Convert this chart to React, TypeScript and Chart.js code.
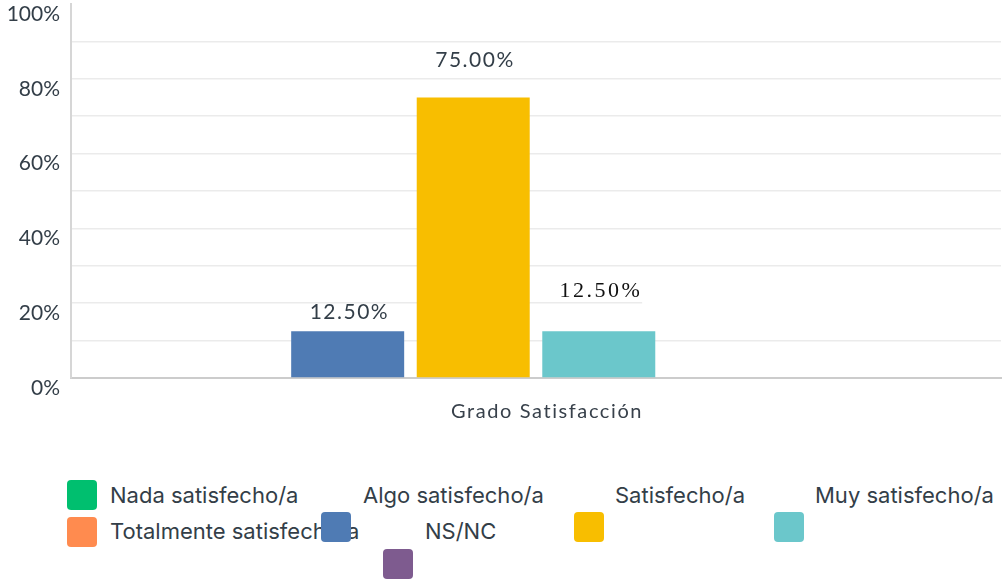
import React, { useEffect, useRef } from "react";
import { Chart, registerables } from "chart.js";

Chart.register(...registerables);

const categories = ["Grado Satisfacción"];
const seriesNames = [
  "Nada satisfecho/a",
  "Algo satisfecho/a",
  "Satisfecho/a",
  "Muy satisfecho/a",
  "Totalmente satisfecho/a",
  "NS/NC",
];
const seriesValues = [0, 12.5, 75, 12.5, 0, 0];
const seriesColors = ["#00bf6f", "#4f7bb4", "#f8be00", "#6bc7cb", "#ff8b4f", "#7e5b8f"];
const yTickValues = [0, 20, 40, 60, 80, 100];

// label styling per series (font / distance above bar top)
const labelFonts = [
  "21px Lato",
  "21px Lato",
  "21px Lato",
  "22px 'Liberation Serif'",
  "21px Lato",
  "21px Lato",
];
const labelColors = ["#333e48", "#333e48", "#333e48", "#111111", "#333e48", "#333e48"];
const labelSpacing = [1.5, 1.5, 1.5, 2.5, 1.5, 1.5];
const labelLift = [19, 19, 37.5, 40.5, 19, 19];

// legend layout (as rendered in the reference)
const legendLayout = [
  { bx: 67, by: 480, tx: 110, ty: 495 },
  { bx: 321, by: 512, tx: 363, ty: 495 },
  { bx: 574, by: 512, tx: 615, ty: 495 },
  { bx: 774, by: 512, tx: 815, ty: 495 },
  { bx: 67, by: 517, tx: 110, ty: 531 },
  { bx: 383, by: 549, tx: 425, ty: 531 },
];

const TEXT = "#333e48";

const labelPlugin = {
  id: "valueLabels",
  beforeDatasetsDraw(chart: any) {
    // the reference's 20% gridline is cut after the right value label
    const ctx = chart.ctx;
    const y = chart.scales.y.getPixelForValue(20);
    const meta = chart.getDatasetMeta(3);
    const el = meta && meta.data[0];
    if (!el) return;
    ctx.save();
    ctx.font = labelFonts[3];
    (ctx as any).letterSpacing = labelSpacing[3] + "px";
    const txt = seriesValues[3].toFixed(2) + "%";
    const w = ctx.measureText(txt).width;
    const x0 = el.x + 2 + w / 2;
    ctx.fillStyle = "#ffffff";
    ctx.fillRect(x0, y - 1.5, chart.chartArea.right - x0 + 2, 3);
    ctx.restore();
  },
  afterDatasetsDraw(chart: any) {
    const ctx = chart.ctx;
    ctx.save();
    ctx.textAlign = "center";
    ctx.textBaseline = "middle";
    chart.data.datasets.forEach((ds: any, i: number) => {
      const meta = chart.getDatasetMeta(i);
      const el = meta.data[0];
      const v = ds.data[0];
      if (!el || !v) return;
      ctx.font = labelFonts[i];
      ctx.fillStyle = labelColors[i];
      (ctx as any).letterSpacing = labelSpacing[i] + "px";
      ctx.fillText(v.toFixed(2) + "%", el.x + 1 + labelSpacing[i] / 2, el.y - labelLift[i]);
    });
    // category label
    const xs = chart.scales.x;
    ctx.font = "20px Lato";
    ctx.fillStyle = "#38414b";
    (ctx as any).letterSpacing = "1.6px";
    categories.forEach((c, i) => {
      ctx.fillText(c, xs.getPixelForValue(i) + 11, xs.bottom - 18);
    });
    ctx.restore();
  },
};

export default function App() {
  const ref = useRef<HTMLCanvasElement>(null);

  useEffect(() => {
    if (!ref.current) return;
    const chart = new Chart(ref.current, {
      type: "bar",
      data: {
        labels: categories,
        datasets: seriesNames.map((name, i) => ({
          label: name,
          data: [seriesValues[i]],
          backgroundColor: seriesColors[i],
          borderWidth: 0,
          categoryPercentage: 0.81,
          barPercentage: 0.9,
        })),
      },
      options: {
        responsive: false,
        animation: false,
        devicePixelRatio: 1,
        layout: { padding: { top: 4, right: 2, left: 0, bottom: 0 } },
        plugins: {
          legend: { display: false },
          tooltip: { enabled: false },
          title: { display: false },
        },
        scales: {
          x: {
            afterFit: (s: any) => {
              s.height = 52;
              s.paddingLeft = 0;
              s.paddingRight = 0;
            },
            grid: { color: "rgba(0,0,0,0)", drawTicks: false },
            border: { color: "#cccccc", width: 2 },
            ticks: { display: false },
          },
          y: {
            min: 0,
            max: 100,
            afterFit: (s: any) => {
              s.width = 71;
              s.paddingTop = 0;
              s.paddingBottom = 0;
            },
            afterBuildTicks: (s: any) => {
              const t: any[] = [];
              for (let v = 0; v <= 100; v += 10) t.push({ value: v });
              s.ticks = t;
            },
            grid: {
              drawTicks: false,
              lineWidth: 1.5,
              color: (c: any) => (c.tick && c.tick.value === 100 ? "rgba(0,0,0,0)" : "#ebebeb"),
            },
            border: { color: "#d6d6d6", width: 2 },
            ticks: {
              autoSkip: false,
              padding: 11,
              labelOffset: 10,
              color: TEXT,
              font: { family: "Lato", size: 21 },
              callback: (v: any) => (yTickValues.includes(Number(v)) ? v + "%" : ""),
            },
          },
        },
      },
      plugins: [labelPlugin],
    });
    return () => chart.destroy();
  }, []);

  return (
    <div style={{ position: "absolute", left: 0, top: 0, width: 1003, height: 579, background: "#fff", overflow: "hidden" }}>
      <canvas ref={ref} width={1003} height={430} style={{ display: "block", width: 1003, height: 430 }} />
      {seriesNames.map((name, i) => (
        <React.Fragment key={name}>
          <div
            style={{
              position: "absolute",
              left: legendLayout[i].bx,
              top: legendLayout[i].by,
              width: 30,
              height: 30,
              borderRadius: 4,
              background: seriesColors[i],
              zIndex: i === 1 ? 2 : 1,
            }}
          />
          <div
            style={{
              position: "absolute",
              left: legendLayout[i].tx,
              top: legendLayout[i].ty - 15,
              height: 30,
              lineHeight: "30px",
              fontFamily: "Inter",
              fontSize: 22,
              color: TEXT,
              whiteSpace: "nowrap",
            }}
          >
            {name}
          </div>
        </React.Fragment>
      ))}
    </div>
  );
}
